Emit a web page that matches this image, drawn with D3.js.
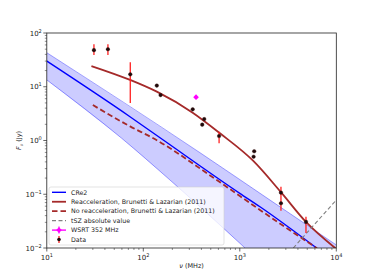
<!DOCTYPE html>
<html><head><meta charset="utf-8">
<script src="https://cdn.jsdelivr.net/npm/d3@7"></script>
<style>body{margin:0;background:#fff}svg{display:block;font-family:"DejaVu Sans",sans-serif}</style>
</head><body><svg id="c" width="374" height="280"></svg>
<script>
// ---- data ----
const xTicks = [10, 100, 1000, 10000];
const yTicks = [0.01, 0.1, 1, 10, 100];
const xTickExp = ["1", "2", "3", "4"];
const yTickExp = ["\u22122", "\u22121", "0", "1", "2"];

const cre2Freq = [10, 72.8, 161, 1000, 1618, 6300];
const cre2Flux = [30, 2.77, 1.02, 0.104, 0.0586, 0.0099];

const bandUpperFreq = [10, 387, 2055, 10000];
const bandUpperFlux = [43, 0.593, 0.078, 0.0114];
const bandLowerFreq = [10, 59.7, 189, 1133];
const bandLowerFlux = [13.4, 1.1, 0.184, 0.01];

const reaccFreq = [29, 73, 138, 325, 623, 1380, 2680, 4850, 10000];
const reaccFlux = [24.3, 13.4, 8.1, 3.29, 1.36, 0.416, 0.108, 0.0305, 0.0096];

const noReaccFreq = [30, 73, 127, 577, 1618, 6300];
const noReaccFlux = [4.57, 1.83, 1.1, 0.184, 0.051, 0.0099];

const tszFreq = [3580, 10000];
const tszFlux = [0.01, 0.078];

const dataFreq = [30.8, 43, 73.3, 138, 151, 325, 408, 428, 610, 1390, 1410, 2670, 2670, 4850];
const dataFlux = [48, 50, 17, 10.5, 7.0, 3.8, 1.97, 2.5, 1.21, 0.50, 0.63, 0.107, 0.068, 0.0306];
const dataLo   = [39, 39, 5, 10.5, 7.0, 3.8, 1.97, 2.5, 0.89, 0.50, 0.63, 0.0494, 0.068, 0.019];
const dataHi   = [62, 62, 28.5, 10.5, 7.0, 3.8, 1.97, 2.5, 1.46, 0.50, 0.63, 0.138, 0.068, 0.038];

const wsrtFreq = [352];
const wsrtFlux = [6.4];

const legendLabels = ["CRe2", "Reacceleration, Brunetti & Lazarian (2011)",
  "No reacceleration, Brunetti & Lazarian (2011)", "tSZ absolute value", "WSRT 352 MHz", "Data"];

// ---- layout ----
const L = 46.8, R = 336.3, T = 33, B = 248;
const svg = d3.select("#c");
const x = d3.scaleLog().domain([10, 10000]).range([L, R]);
const y = d3.scaleLog().domain([0.01, 100]).range([B, T]);

svg.append("defs").append("clipPath").attr("id", "clip")
  .append("rect").attr("x", L).attr("y", T).attr("width", R - L).attr("height", B - T);
const g = svg.append("g").attr("clip-path", "url(#clip)");

const line = d3.line().x(d => x(d[0])).y(d => y(d[1])).curve(d3.curveMonotoneX);
const zip = (a, b) => a.map((v, i) => [v, b[i]]);

// band
const up = zip(bandUpperFreq, bandUpperFlux);
const lo = zip(bandLowerFreq, bandLowerFlux);
const poly = up.concat([[10000, 0.01]], lo.slice().reverse());
g.append("path").attr("d", d3.line().x(d => x(d[0])).y(d => y(d[1]))(poly) + "Z")
  .attr("fill", "rgba(0,0,255,0.2)").attr("stroke", "none");
g.append("path").attr("d", line(up)).attr("fill", "none").attr("stroke", "rgba(0,0,255,0.45)").attr("stroke-width", 0.8);
g.append("path").attr("d", line(lo)).attr("fill", "none").attr("stroke", "rgba(0,0,255,0.45)").attr("stroke-width", 0.8);

// cre2
g.append("path").attr("d", line(zip(cre2Freq, cre2Flux))).attr("fill", "none").attr("stroke", "#0000ff").attr("stroke-width", 1.4);
// reacc
g.append("path").attr("d", line(zip(reaccFreq, reaccFlux))).attr("fill", "none").attr("stroke", "#a52a2a").attr("stroke-width", 1.8);
// no reacc
g.append("path").attr("d", line(zip(noReaccFreq, noReaccFlux))).attr("fill", "none").attr("stroke", "#a52a2a")
  .attr("stroke-width", 1.8).attr("stroke-dasharray", "5.5,3");
// tsz
g.append("path").attr("d", line(zip(tszFreq, tszFlux))).attr("fill", "none").attr("stroke", "#808080")
  .attr("stroke-width", 1.1).attr("stroke-dasharray", "4,2.5");

// data error bars
dataFreq.forEach((f, i) => {
  if (dataHi[i] !== dataLo[i]) {
    g.append("line").attr("x1", x(f)).attr("x2", x(f)).attr("y1", y(dataLo[i])).attr("y2", y(dataHi[i]))
      .attr("stroke", "#ff2020").attr("stroke-width", 1.3);
  }
});
dataFreq.forEach((f, i) => {
  g.append("circle").attr("cx", x(f)).attr("cy", y(dataFlux[i])).attr("r", 1.8)
    .attr("fill", "#1e0a0a").attr("stroke", "#3a1010").attr("stroke-width", 0.4);
});
// wsrt
wsrtFreq.forEach((f, i) => {
  const cx = x(f), cy = y(wsrtFlux[i]), s = 2.8;
  g.append("path").attr("d", `M${cx},${cy - s}L${cx + s},${cy}L${cx},${cy + s}L${cx - s},${cy}Z`).attr("fill", "#ff00ff");
});

// frame
svg.append("rect").attr("x", L).attr("y", T).attr("width", R - L).attr("height", B - T)
  .attr("fill", "none").attr("stroke", "#222").attr("stroke-width", 0.8);

// ticks
const minorX = [], minorY = [];
[10, 100, 1000].forEach(d => { for (let k = 2; k <= 9; k++) minorX.push(d * k); });
[0.01, 0.1, 1, 10].forEach(d => { for (let k = 2; k <= 9; k++) minorY.push(d * k); });
const ax = svg.append("g").attr("stroke", "#222").attr("stroke-width", 0.7);
xTicks.forEach(t => ax.append("line").attr("x1", x(t)).attr("x2", x(t)).attr("y1", B).attr("y2", B + 3.5));
minorX.forEach(t => ax.append("line").attr("x1", x(t)).attr("x2", x(t)).attr("y1", B).attr("y2", B + 2).attr("stroke-width", 0.5));
yTicks.forEach(t => ax.append("line").attr("y1", y(t)).attr("y2", y(t)).attr("x1", L).attr("x2", L - 3.5));
minorY.forEach(t => ax.append("line").attr("y1", y(t)).attr("y2", y(t)).attr("x1", L).attr("x2", L - 2).attr("stroke-width", 0.5));

const fs = 7;
xTicks.forEach((t, i) => {
  const tx = svg.append("text").attr("x", x(t)).attr("y", B + 12).attr("text-anchor", "middle").attr("font-size", fs).attr("fill", "#222");
  tx.append("tspan").text("10");
  tx.append("tspan").attr("dy", -3).attr("font-size", 5).text(xTickExp[i]);
});
yTicks.forEach((t, i) => {
  const tx = svg.append("text").attr("x", L - 5).attr("y", y(t) + 2.5).attr("text-anchor", "end").attr("font-size", fs).attr("fill", "#222");
  tx.append("tspan").text("10");
  tx.append("tspan").attr("dy", -3).attr("font-size", 5).text(yTickExp[i]);
});

// axis labels
const xl = svg.append("text").attr("x", (L + R) / 2).attr("y", 268).attr("text-anchor", "middle").attr("font-size", 6.5).attr("fill", "#222");
xl.append("tspan").attr("font-style", "italic").text("\u03bd");
xl.append("tspan").text(" (MHz)");
const yl = svg.append("text").attr("transform", `translate(21,${(T + B) / 2}) rotate(-90)`).attr("text-anchor", "middle").attr("font-size", 6.5).attr("fill", "#222");
yl.append("tspan").attr("font-style", "italic").text("F");
yl.append("tspan").attr("font-style", "italic").attr("font-size", 4.5).attr("dy", 1.5).text("\u03bd");
yl.append("tspan").attr("dy", -1.5).text(" (Jy)");

// legend
const lg = svg.append("g");
lg.append("rect").attr("x", 49).attr("y", 187).attr("width", 175).attr("height", 58).attr("rx", 2)
  .attr("fill", "rgba(255,255,255,0.8)").attr("stroke", "#d0d0d0").attr("stroke-width", 0.6);
const ly0 = 192.3, ldy = 9.45, hx0 = 52, hx1 = 66, tx0 = 71;
legendLabels.forEach((lab, i) => {
  const yy = ly0 + i * ldy;
  if (i === 0) lg.append("line").attr("x1", hx0).attr("x2", hx1).attr("y1", yy).attr("y2", yy).attr("stroke", "#0000ff").attr("stroke-width", 1.4);
  if (i === 1) lg.append("line").attr("x1", hx0).attr("x2", hx1).attr("y1", yy).attr("y2", yy).attr("stroke", "#a52a2a").attr("stroke-width", 1.8);
  if (i === 2) lg.append("line").attr("x1", hx0).attr("x2", hx1).attr("y1", yy).attr("y2", yy).attr("stroke", "#a52a2a").attr("stroke-width", 1.8).attr("stroke-dasharray", "5.5,3");
  if (i === 3) lg.append("line").attr("x1", hx0).attr("x2", hx1).attr("y1", yy).attr("y2", yy).attr("stroke", "#808080").attr("stroke-width", 1.1).attr("stroke-dasharray", "4,2.5");
  if (i === 4) {
    const cx = (hx0 + hx1) / 2, s = 2.8;
    lg.append("line").attr("x1", hx0).attr("x2", hx1).attr("y1", yy).attr("y2", yy).attr("stroke", "#ff00ff").attr("stroke-width", 1.4);
    lg.append("line").attr("x1", cx).attr("x2", cx).attr("y1", yy - 3.5).attr("y2", yy + 3.5).attr("stroke", "#ff00ff").attr("stroke-width", 1.2);
    lg.append("path").attr("d", `M${cx},${yy - s}L${cx + s},${yy}L${cx},${yy + s}L${cx - s},${yy}Z`).attr("fill", "#ff00ff");
  }
  if (i === 5) {
    const cx = (hx0 + hx1) / 2;
    lg.append("line").attr("x1", cx).attr("x2", cx).attr("y1", yy - 3.5).attr("y2", yy + 3.5).attr("stroke", "#ff2020").attr("stroke-width", 1.3);
    lg.append("circle").attr("cx", cx).attr("cy", yy).attr("r", 1.8).attr("fill", "#1e0a0a");
  }
  lg.append("text").attr("x", tx0).attr("y", yy + 2.2).attr("font-size", 6.3).attr("fill", "#222").text(lab);
});
</script></body></html>
